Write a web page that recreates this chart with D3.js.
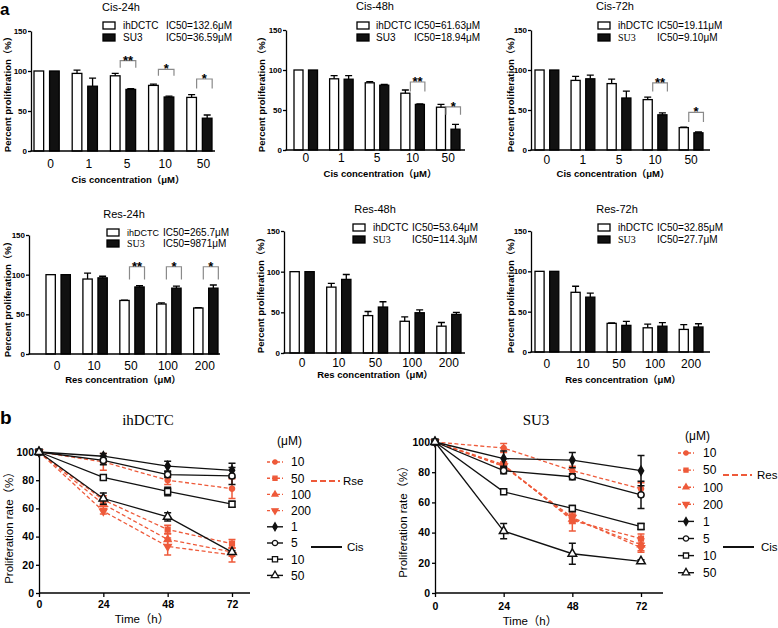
<!DOCTYPE html>
<html><head><meta charset="utf-8">
<script src="https://cdn.jsdelivr.net/npm/d3@7"></script>
<style>body{margin:0;background:#fff}svg{display:block}</style>
</head><body><svg id="c" width="778" height="628"></svg>
<script>
// ---------------- DATA ----------------
const cisConc = ["0","1","5","10","50"];
const resConc = ["0","10","50","100","200"];
const yTicksBar = [0,50,100,150];
const barSeries = ["ihDCTC","SU3"];

const cis24_ihDCTC = [100,97,94,82,67];
const cis24_ihDCTC_err = [0,4,3,1.5,3.5];
const cis24_SU3 = [100,81,77,67.5,41];
const cis24_SU3_err = [0,10,1,1,4];
const cis24_sig = [["5","**",113,104],["10","*",102,94],["50","*",90,78]];
const cis24_ic50 = ["IC50=132.6μM","IC50=36.59μM"];

const cis48_ihDCTC = [100,89,84,71,53.5];
const cis48_ihDCTC_err = [0,4,1.5,4,3.5];
const cis48_SU3 = [100,88.5,81,57,26];
const cis48_SU3_err = [0,4.5,1,0.5,6];
const cis48_sig = [["10","**",85,73],["50","*",54,44]];
const cis48_ic50 = ["IC50=61.63μM","IC50=18.94μM"];

const cis72_ihDCTC = [100,87,83,63,28];
const cis72_ihDCTC_err = [0,5,5.5,3,0.7];
const cis72_SU3 = [100,89,65,44,21.5];
const cis72_SU3_err = [0,4.5,8.5,2.5,1];
const cis72_sig = [["10","**",84,73],["50","*",47,35]];
const cis72_ic50 = ["IC50=19.11μM","IC50=9.10μM"];

const res24_ihDCTC = [100,94.5,67.5,63,58];
const res24_ihDCTC_err = [0,7.5,0.5,1.5,0.5];
const res24_SU3 = [100,96,84.5,83,83];
const res24_SU3_err = [0,2,1.5,2.5,4];
const res24_sig = [["50","**",110,94],["100","*",110,94],["200","*",110,94]];
const res24_ic50 = ["IC50=265.7μM","IC50=9871μM"];

const res48_ihDCTC = [100,81,46,39,33];
const res48_ihDCTC_err = [0,4.5,5,5.5,4.5];
const res48_SU3 = [100,90.5,56.5,49.5,47.5];
const res48_SU3_err = [0,6,6.5,3.5,2.5];
const res48_sig = [];
const res48_ic50 = ["IC50=53.64μM","IC50=114.3μM"];

const res72_ihDCTC = [100,74,35.5,30,28];
const res72_ihDCTC_err = [0,7.5,0.5,4.5,6];
const res72_SU3 = [100,68,33,32,31];
const res72_SU3_err = [0,5,5,4.5,4];
const res72_sig = [];
const res72_ic50 = ["IC50=32.85μM","IC50=27.7μM"];

// panel b
const timePoints = [0,24,48,72];
const yTicksLine = [0,20,40,60,80,100];
const legendConc = ["10","50","100","200","1","5","10","50"];

const ih_res10 = [100,93,80,74];   const ih_res10_err = [0,6,3,7];
const ih_res50 = [100,66,45,35];   const ih_res50_err = [0,3,3,3];
const ih_res100 = [100,63,38,29];  const ih_res100_err = [0,3,4,3];
const ih_res200 = [100,58,33,27];  const ih_res200_err = [0,2,6,5];
const ih_cis1 = [100,97,90,87];    const ih_cis1_err = [0,2,3.5,5];
const ih_cis5 = [100,94,84,83];    const ih_cis5_err = [0,3,2,6];
const ih_cis10 = [100,82,72,63];   const ih_cis10_err = [0,1.5,3,2];
const ih_cis50 = [100,67,54,29];   const ih_cis50_err = [0,4,3,1];

const su_res10 = [100,96,81,69];   const su_res10_err = [0,3,3,4];
const su_res50 = [100,85,48,36];   const su_res50_err = [0,2,7,3];
const su_res100 = [100,84,49,32];  const su_res100_err = [0,2,3,4];
const su_res200 = [100,84,50,30];  const su_res200_err = [0,2,3,3];
const su_cis1 = [100,89,88,81];    const su_cis1_err = [0,5,5,10];
const su_cis5 = [100,81,77,65];    const su_cis5_err = [0,2,2,9];
const su_cis10 = [100,67,56,44];   const su_cis10_err = [0,1,2,2];
const su_cis50 = [100,41,26,21];   const su_cis50_err = [0,5,7,1];

// ---------------- DRAWING ----------------
const SANS = '"Liberation Sans", Arial, "Noto Sans CJK SC", sans-serif';
const SERIF = '"Liberation Serif", "Times New Roman", serif';
const ORANGE = "#ee5a3a";
const svg = d3.select("#c");

const barPanels = [
  {title:"Cis-24h", cats:cisConc, a:cis24_ihDCTC, ae:cis24_ihDCTC_err, b:cis24_SU3, be:cis24_SU3_err, sig:cis24_sig, ic:cis24_ic50, xt:"Cis concentration（μM）"},
  {title:"Cis-48h", cats:cisConc, a:cis48_ihDCTC, ae:cis48_ihDCTC_err, b:cis48_SU3, be:cis48_SU3_err, sig:cis48_sig, ic:cis48_ic50, xt:"Cis concentration（μM）"},
  {title:"Cis-72h", cats:cisConc, a:cis72_ihDCTC, ae:cis72_ihDCTC_err, b:cis72_SU3, be:cis72_SU3_err, sig:cis72_sig, ic:cis72_ic50, xt:"Cis concentration（μM）"},
  {title:"Res-24h", cats:resConc, a:res24_ihDCTC, ae:res24_ihDCTC_err, b:res24_SU3, be:res24_SU3_err, sig:res24_sig, ic:res24_ic50, xt:"Res concentration（μM）"},
  {title:"Res-48h", cats:resConc, a:res48_ihDCTC, ae:res48_ihDCTC_err, b:res48_SU3, be:res48_SU3_err, sig:res48_sig, ic:res48_ic50, xt:"Res concentration（μM）"},
  {title:"Res-72h", cats:resConc, a:res72_ihDCTC, ae:res72_ihDCTC_err, b:res72_SU3, be:res72_SU3_err, sig:res72_sig, ic:res72_ic50, xt:"Res concentration（μM）"}
];
const barLayout = [
 {ax0:31, ax1:215, bx0:34, bx1:212, y0:151, y150:31, tx:121, ty:11, lx:103, ly1:29, ly2:41, ltx:123, icx:166, lfs:10, tickY:168, xtX:128, xtY:183, ylX:11, ylY:92, su3Serif:false, tickDx:4},
 {ax0:286, ax1:465, bx0:294, bx1:460, y0:150, y150:30, tx:375, ty:10, lx:357, ly1:29, ly2:41, ltx:376, icx:414, lfs:10, tickY:162, xtX:380, xtY:177, ylX:265, ylY:92, su3Serif:false, tickDx:0},
 {ax0:531, ax1:710, bx0:535, bx1:703, y0:150, y150:30, tx:615, ty:10, lx:598, ly1:29, ly2:41, ltx:618, icx:657, lfs:10, tickY:164, xtX:613, xtY:177, ylX:514, ylY:92, su3Serif:true, tickDx:0},
 {ax0:29, ax1:220, bx0:46, bx1:218, y0:354, y150:235, tx:124, ty:218, lx:107, ly1:236, ly2:247, ltx:127, icx:163, lfs:9, tickY:370, xtX:123, xtY:383, ylX:11, ylY:297, su3Serif:true, tickDx:-1},
 {ax0:284, ax1:465, bx0:290, bx1:461, y0:353, y150:231, tx:375, ty:213, lx:353, ly1:231, ly2:243, ltx:373, icx:412, lfs:10, tickY:367, xtX:375, xtY:378, ylX:264, ylY:293, su3Serif:true, tickDx:0},
 {ax0:531, ax1:710, bx0:535, bx1:703, y0:352, y150:231, tx:617, ty:213, lx:598, ly1:231, ly2:243, ltx:618, icx:657, lfs:10, tickY:368, xtX:623, xtY:383, ylX:514, ylY:293, su3Serif:true, tickDx:0}
];

function drawBarPanel(P, L) {
  const g = svg.append("g");
  const y = d3.scaleLinear().domain([0,150]).range([L.y0, L.y150]);
  const x = d3.scaleBand().domain(P.cats).range([L.bx0, L.bx1]).paddingInner(0.34).paddingOuter(0);
  const xs = d3.scaleBand().domain(barSeries).range([0, x.bandwidth()]).paddingInner(0.38);
  const bw = xs.bandwidth();
  const series = [{name:"ihDCTC", v:P.a, e:P.ae, fill:"#fff"},{name:"SU3", v:P.b, e:P.be, fill:"#111"}];
  series.forEach(s => {
    const rows = P.cats.map((c,i)=>({c, v:s.v[i], e:s.e[i]}));
    g.append("g").selectAll("rect").data(rows).join("rect")
      .attr("x", d=>x(d.c)+xs(s.name)).attr("y", d=>y(d.v))
      .attr("width", bw).attr("height", d=>y(0)-y(d.v))
      .attr("fill", s.fill).attr("stroke","#000").attr("stroke-width",1.3);
    g.append("g").selectAll("path").data(rows.filter(d=>d.e>0)).join("path")
      .attr("d", d=>{const cx=x(d.c)+xs(s.name)+bw/2, y1=y(d.v), y2=y(d.v+d.e);
        return `M${cx},${y1}V${y2}M${cx-3.5},${y2}H${cx+3.5}`;})
      .attr("stroke","#000").attr("stroke-width",1.3).attr("fill","none");
  });
  // y axis
  const ya = g.append("g").attr("transform",`translate(${L.ax0},0)`)
    .call(d3.axisLeft(y).tickValues(yTicksBar).tickSize(3).tickSizeOuter(0).tickPadding(1));
  ya.attr("font-family", SANS).attr("font-size", 8).attr("font-weight","bold");
  ya.selectAll("path,line").attr("stroke","#000").attr("stroke-width",1.3);
  // x axis
  const xa = g.append("g").attr("transform",`translate(0,${L.y0})`)
    .call(d3.axisBottom(x).tickSize(0).tickPadding(L.tickY - L.y0 - 8.5));
  xa.select(".domain").remove();
  xa.attr("font-family", SANS).attr("font-size", 12);
  xa.selectAll("text").attr("dx", L.tickDx);
  g.append("line").attr("x1",L.ax0-0.6).attr("x2",L.ax1).attr("y1",L.y0).attr("y2",L.y0)
    .attr("stroke","#000").attr("stroke-width",1.3);
  // significance
  P.sig.forEach(([c,mark,top,base]) => {
    const xl = x(c)+xs("ihDCTC")+bw/2+5, xr = x(c)+xs("SU3")+bw/2+5;
    g.append("path").attr("d",`M${xl},${y(base)}V${y(top)}H${xr}V${y(base)}`)
      .attr("fill","none").attr("stroke","#8a8a8a").attr("stroke-width",1.2);
    g.append("text").attr("x",(xl+xr)/2).attr("y",y(top)+4).attr("text-anchor","middle")
      .attr("font-family",SANS).attr("font-size",13).attr("font-weight","bold").text(mark);
  });
  // title
  g.append("text").attr("x",L.tx).attr("y",L.ty).attr("text-anchor","middle")
    .attr("font-family",SANS).attr("font-size",11).text(P.title);
  // legend
  g.append("rect").attr("x",L.lx).attr("y",L.ly1-7).attr("width",12).attr("height",7)
    .attr("fill","#fff").attr("stroke","#000").attr("stroke-width",1.3);
  g.append("rect").attr("x",L.lx).attr("y",L.ly2-7).attr("width",12).attr("height",7)
    .attr("fill","#111").attr("stroke","#000").attr("stroke-width",1.3);
  g.append("text").attr("x",L.ltx).attr("y",L.ly1).attr("font-family",SANS).attr("font-size",L.lfs).text("ihDCTC");
  g.append("text").attr("x",L.ltx).attr("y",L.ly2).attr("font-family",L.su3Serif?SERIF:SANS)
    .attr("font-size",10).text("SU3");
  g.append("text").attr("x",L.icx).attr("y",L.ly1).attr("font-family",SANS).attr("font-size",10).text(P.ic[0]);
  g.append("text").attr("x",L.icx).attr("y",L.ly2).attr("font-family",SANS).attr("font-size",10).text(P.ic[1]);
  // axis titles
  g.append("text").attr("x",L.xtX).attr("y",L.xtY).attr("text-anchor","middle")
    .attr("font-family",SANS).attr("font-size",9.5).attr("font-weight","bold").text(P.xt);
  g.append("text").attr("transform",`translate(${L.ylX},${L.ylY}) rotate(-90)`).attr("text-anchor","middle")
    .attr("font-family",SANS).attr("font-size",9.5).attr("font-weight","bold").text("Percent proliferation（%）");
}
barPanels.forEach((p,i)=>drawBarPanel(p, barLayout[i]));

// panel letters
svg.append("text").attr("x",0).attr("y",15).attr("font-family",SANS).attr("font-size",17).attr("font-weight","bold").text("a");
svg.append("text").attr("x",0).attr("y",424).attr("font-family",SANS).attr("font-size",19).attr("font-weight","bold").text("b");

// ---------- line panels ----------
const symTriDown = { draw(ctx, size){ const s = Math.sqrt(size*4/Math.sqrt(3));
  const hh = s*Math.sqrt(3)/2; ctx.moveTo(-s/2,-hh/3); ctx.lineTo(s/2,-hh/3); ctx.lineTo(0,2*hh/3); ctx.closePath(); } };
const markerDefs = {
  res: [ {type:d3.symbolCircle,size:20}, {type:d3.symbolSquare,size:22}, {type:d3.symbolTriangle,size:20}, {type:symTriDown,size:22} ],
  cis: [ {type:d3.symbolDiamond,size:24,fill:"#111"}, {type:d3.symbolCircle,size:30,fill:"#fff"}, {type:d3.symbolSquare,size:36,fill:"#fff"}, {type:d3.symbolTriangle,size:32,fill:"#fff"} ]
};

const linePanels = [
  {title:"ihDCTC", resLabel:"Rse",
   res:[[ih_res10,ih_res10_err],[ih_res50,ih_res50_err],[ih_res100,ih_res100_err],[ih_res200,ih_res200_err]],
   cis:[[ih_cis1,ih_cis1_err],[ih_cis5,ih_cis5_err],[ih_cis10,ih_cis10_err],[ih_cis50,ih_cis50_err]]},
  {title:"SU3", resLabel:"Res",
   res:[[su_res10,su_res10_err],[su_res50,su_res50_err],[su_res100,su_res100_err],[su_res200,su_res200_err]],
   cis:[[su_cis1,su_cis1_err],[su_cis5,su_cis5_err],[su_cis10,su_cis10_err],[su_cis50,su_cis50_err]]}
];
const lineLayout = [
  {x0:39, x72:232, xEnd:250, y0:593, y100:452, tx:148, ty:425, ylX:13, ylY:525, tickY:608, xtX:142, xtY:623,
   muX:277, muY:445, legY0:462, legStep:16.2, legX:267, legTx:291, gx1:311, gx2:340, gRy:481, gCy:547, gTx:343},
  {x0:435, x72:641, xEnd:663, y0:593, y100:442, tx:536, ty:425, ylX:407, ylY:519, tickY:610, xtX:530, xtY:625,
   muX:685, muY:440, legY0:453, legStep:17.1, legX:678, legTx:703, gx1:723, gx2:752, gRy:475, gCy:547, gTx:757}
];

function drawLinePanel(P, L) {
  const g = svg.append("g");
  const x = d3.scaleLinear().domain([0,72]).range([L.x0, L.x72]);
  const y = d3.scaleLinear().domain([0,100]).range([L.y0, L.y100]);
  const ya = g.append("g").attr("transform",`translate(${L.x0},0)`)
    .call(d3.axisLeft(y).tickValues(yTicksLine).tickSize(3).tickSizeOuter(0).tickPadding(2));
  ya.attr("font-family",SANS).attr("font-size",10.5).attr("font-weight","bold");
  ya.selectAll("path,line").attr("stroke","#000").attr("stroke-width",1.3);
  const xa = g.append("g").attr("transform",`translate(0,${L.y0})`)
    .call(d3.axisBottom(x).tickValues(timePoints).tickSize(4).tickSizeOuter(0).tickPadding(L.tickY-L.y0-4-7.5));
  xa.select(".domain").remove();
  xa.attr("font-family",SANS).attr("font-size",10.5).attr("font-weight","bold");
  xa.selectAll("line").attr("stroke","#000").attr("stroke-width",1.3);
  g.append("line").attr("x1",L.x0).attr("x2",L.xEnd).attr("y1",L.y0).attr("y2",L.y0).attr("stroke","#000").attr("stroke-width",1.3);

  const line = d3.line().x(d=>x(d.t)).y(d=>y(d.v));
  const all = [];
  P.res.forEach(([v,e],i)=>all.push({v,e,color:ORANGE,dash:"4,2.5",m:markerDefs.res[i],fill:ORANGE}));
  P.cis.forEach(([v,e],i)=>all.push({v,e,color:"#111",dash:null,m:markerDefs.cis[i],fill:markerDefs.cis[i].fill}));
  all.forEach(s=>{
    const pts = timePoints.map((t,i)=>({t, v:s.v[i], e:s.e[i]}));
    g.append("path").datum(pts).attr("d",line).attr("fill","none").attr("stroke",s.color)
      .attr("stroke-width",1.3).attr("stroke-dasharray",s.dash);
    g.append("g").selectAll("path").data(pts.filter(d=>d.e>0)).join("path")
      .attr("d",d=>{const cx=x(d.t),a=y(d.v+d.e),b=y(d.v-d.e);return `M${cx},${a}V${b}M${cx-3.5},${a}H${cx+3.5}M${cx-3.5},${b}H${cx+3.5}`;})
      .attr("stroke",s.color).attr("stroke-width",1.5).attr("fill","none");
    g.append("g").selectAll("path").data(pts).join("path")
      .attr("transform",d=>`translate(${x(d.t)},${y(d.v)})`)
      .attr("d",d3.symbol(s.m.type,s.m.size)).attr("fill",s.fill).attr("stroke",s.color).attr("stroke-width",1.5);
  });
  // titles
  g.append("text").attr("x",L.tx).attr("y",L.ty).attr("text-anchor","middle").attr("font-family",SERIF).attr("font-size",15).text(P.title);
  g.append("text").attr("transform",`translate(${L.ylX},${L.ylY}) rotate(-90)`).attr("text-anchor","middle")
    .attr("font-family",SANS).attr("font-size",11.5).text("Proliferation rate（%）");
  g.append("text").attr("x",L.xtX).attr("y",L.xtY).attr("text-anchor","middle").attr("font-family",SANS).attr("font-size",11.5).text("Time（h）");
  // legend
  g.append("text").attr("x",L.muX).attr("y",L.muY).attr("font-family",SANS).attr("font-size",12).text("(μM)");
  all.forEach((s,i)=>{
    const cy = L.legY0 + i*L.legStep;
    g.append("line").attr("x1",L.legX).attr("x2",L.legX+16).attr("y1",cy).attr("y2",cy)
      .attr("stroke",s.color).attr("stroke-width",1.4).attr("stroke-dasharray",s.dash?"3,2":null);
    g.append("path").attr("transform",`translate(${L.legX+8},${cy})`).attr("d",d3.symbol(s.m.type,s.m.size*0.75))
      .attr("fill",s.fill).attr("stroke",s.color).attr("stroke-width",1.3);
    g.append("text").attr("x",L.legTx).attr("y",cy+4.3).attr("font-family",SANS).attr("font-size",12).text(legendConc[i]);
  });
  g.append("line").attr("x1",L.gx1).attr("x2",L.gx2).attr("y1",L.gRy).attr("y2",L.gRy)
    .attr("stroke",ORANGE).attr("stroke-width",2).attr("stroke-dasharray","6,3");
  g.append("text").attr("x",L.gTx).attr("y",L.gRy+4).attr("font-family",SANS).attr("font-size",11.5).text(P.resLabel);
  g.append("line").attr("x1",L.gx1).attr("x2",L.gx2+2).attr("y1",L.gCy).attr("y2",L.gCy)
    .attr("stroke","#111").attr("stroke-width",2);
  g.append("text").attr("x",L.gTx+4).attr("y",L.gCy+4).attr("font-family",SANS).attr("font-size",11.5).text("Cis");
}
linePanels.forEach((p,i)=>drawLinePanel(p, lineLayout[i]));
</script></body></html>
